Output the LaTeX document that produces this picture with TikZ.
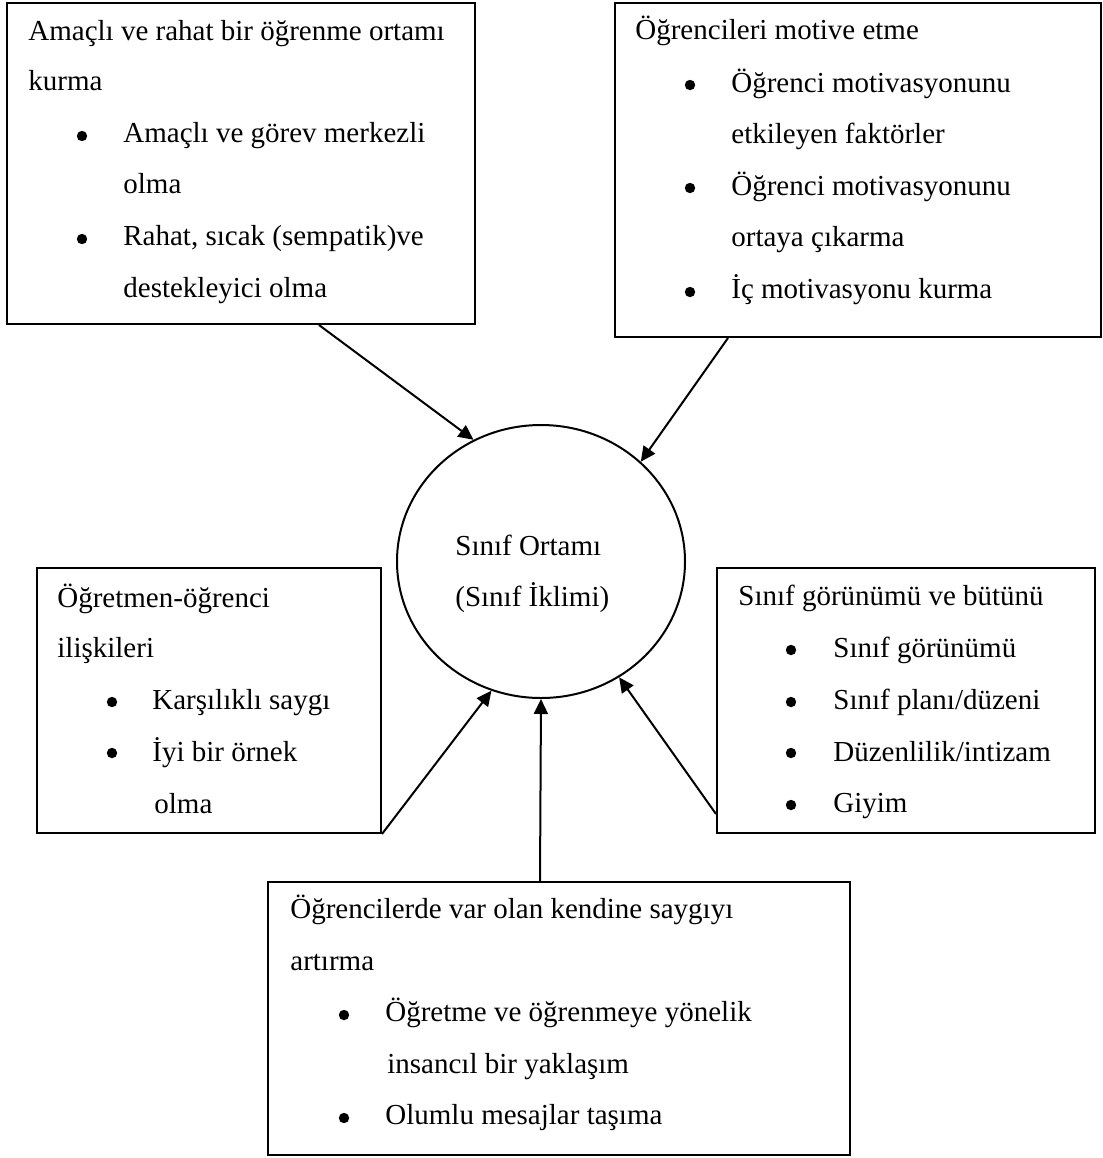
\documentclass[tikz,border=0pt]{standalone}
\usepackage{fontspec}
\setmainfont{Liberation Serif}
\usetikzlibrary{shapes.geometric,arrows.meta,calc}
\newcommand\mainfnt{\fontsize{14.5}{17}\selectfont}
\begin{document}
\begin{tikzpicture}[x=0.5pt,y=-0.5pt,
  boxst/.style={draw,line width=1pt,inner sep=0pt,rectangle},
  txt/.style={anchor=base west,inner sep=0pt,font=\mainfnt},
  bul/.style={circle,fill=black,inner sep=0pt,minimum size=5.2pt},
  conn/.style={line width=1pt,-{Triangle[length=7.5pt,width=7pt]}}]
\useasboundingbox (0,0) rectangle (1103,1158);
% box 1
\node[boxst,minimum width=234pt,minimum height=160.5pt] (b1) at (241,163.5) {};
\node[txt] (b1l1) at (28,40) {Amaçlı ve rahat bir öğrenme ortamı};
\node[txt] (b1l2) at (28,90) {kurma};
\node[bul] (b1d1) at (82,136) {};
\node[txt] (b1l3) at (123,142) {Amaçlı ve görev merkezli};
\node[txt] (b1l4) at (123,193) {olma};
\node[bul] (b1d2) at (82,239) {};
\node[txt] (b1l5) at (123,245) {Rahat, sıcak (sempatik)ve};
\node[txt] (b1l6) at (123,297) {destekleyici olma};
% box 2
\node[boxst,minimum width=243pt,minimum height=167pt] (b2) at (858,170) {};
\node[txt] (b2l1) at (635,39) {Öğrencileri motive etme};
\node[bul] (b2d1) at (690,85) {};
\node[txt] (b2l2) at (731,92) {Öğrenci motivasyonunu};
\node[txt] (b2l3) at (731,143) {etkileyen faktörler};
\node[bul] (b2d2) at (690,188) {};
\node[txt] (b2l4) at (731,195) {Öğrenci motivasyonunu};
\node[txt] (b2l5) at (731,246) {ortaya çıkarma};
\node[bul] (b2d3) at (690,292) {};
\node[txt] (b2l6) at (731,298) {İç motivasyonu kurma};
% circle
\node[draw,ellipse,line width=1pt,minimum width=144pt,minimum height=136.5pt,inner sep=0pt] (c) at (541,561.5) {};
\node[txt] (cl1) at (455,555) {Sınıf Ortamı};
\node[txt] (cl2) at (455,606) {(Sınıf İklimi)};
% box 4
\node[boxst,minimum width=172pt,minimum height=132.5pt] (b4) at (209,700.5) {};
\node[txt] (b4l1) at (57,607) {Öğretmen-öğrenci};
\node[txt] (b4l2) at (57,657) {ilişkileri};
\node[bul] (b4d1) at (112,702) {};
\node[txt] (b4l3) at (152,709) {Karşılıklı saygı};
\node[bul] (b4d2) at (112,753) {};
\node[txt] (b4l4) at (152,761) {İyi bir örnek};
\node[txt] (b4l5) at (154,813) {olma};
% box 5
\node[boxst,minimum width=189pt,minimum height=132.5pt] (b5) at (906,700.5) {};
\node[txt] (b5l1) at (738,605) {Sınıf görünümü ve bütünü};
\node[bul] (b5d1) at (791,650) {};
\node[txt] (b5l2) at (833,657) {Sınıf görünümü};
\node[bul] (b5d2) at (791,702) {};
\node[txt] (b5l3) at (833,709) {Sınıf planı/düzeni};
\node[bul] (b5d3) at (791,753) {};
\node[txt] (b5l4) at (833,761) {Düzenlilik/intizam};
\node[bul] (b5d4) at (791,805) {};
\node[txt] (b5l5) at (833,812) {Giyim};
% box 6
\node[boxst,minimum width=291pt,minimum height=136.5pt] (b6) at (559,1018.5) {};
\node[txt] (b6l1) at (290,918) {Öğrencilerde var olan kendine saygıyı};
\node[txt] (b6l2) at (290,970) {artırma};
\node[bul] (b6d1) at (344,1015) {};
\node[txt] (b6l3) at (385,1021) {Öğretme ve öğrenmeye yönelik};
\node[txt] (b6l4) at (387,1073) {insancıl bir yaklaşım};
\node[bul] (b6d2) at (344,1118) {};
\node[txt] (b6l5) at (385,1124) {Olumlu mesajlar taşıma};
% connectors
\draw[conn] ($(b1.south west)+(313,0)$) -- (c.119);
\draw[conn] ($(b2.south west)+(114,0)$) -- (c.45);
\draw[conn] (b4.south east) -- (c.-111);
\draw[conn] ($(b6.north west)+(273,0)$) -- (c.south);
\draw[conn] ($(b5.south west)+(0,-20)$) -- (c.-56);
\end{tikzpicture}
\end{document}
